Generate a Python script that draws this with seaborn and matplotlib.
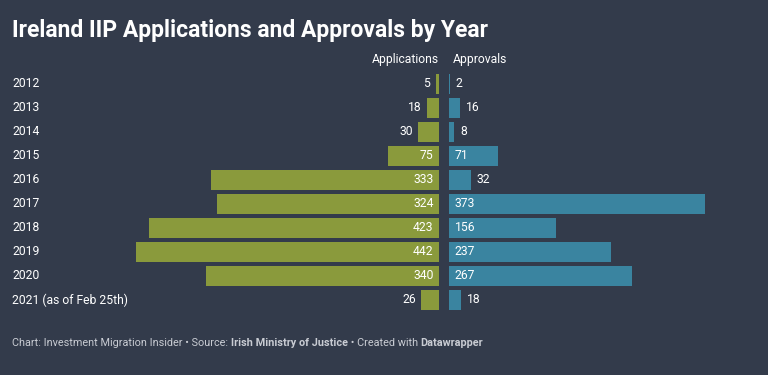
import pandas as pd
import seaborn as sns
import matplotlib.pyplot as plt

sns.set_style("white")
plt.rcParams['font.family'] = ['Roboto', 'DejaVu Sans']

# Data
years = ['2012', '2013', '2014', '2015', '2016', '2017', '2018', '2019', '2020',
         '2021 (as of Feb 25th)']
applications = [5, 18, 30, 75, 333, 324, 423, 442, 340, 26]
approvals = [2, 16, 8, 71, 32, 373, 156, 237, 267, 18]

df = pd.DataFrame({'Year': years, 'Applications': applications,
                   'Approvals': approvals})

bg = '#333b4b'
green = '#8a9a3c'
blue = '#3a84a0'
white = '#ffffff'

fig = plt.figure(figsize=(7.68, 3.75), dpi=100, facecolor=bg)
W, H = 768, 375

# axes placed in pixel terms
top_px, bot_px = 72, 312
ax_bottom = 1 - bot_px / H
ax_height = (bot_px - top_px) / H
scale = 303 / 442  # px per unit

axl = fig.add_axes([0, ax_bottom, 439 / W, ax_height])
axr = fig.add_axes([449 / W, ax_bottom, (W - 449) / W, ax_height])

sns.barplot(data=df, y='Year', x='Applications', color=green, width=0.8,
            saturation=1, linewidth=0, edgecolor='none', ax=axl)
sns.barplot(data=df, y='Year', x='Approvals', color=blue, width=0.8,
            saturation=1, linewidth=0, edgecolor='none', ax=axr)

axl.set_xlim(439 / scale, 0)
axr.set_xlim(0, (W - 449) / scale)

for ax in (axl, axr):
    ax.set_facecolor(bg)
    ax.set_ylim(len(years) - 0.5, -0.5)
    ax.set_xlabel('')
    ax.set_ylabel('')
    ax.set_xticks([])
    ax.set_yticks([])
    sns.despine(ax=ax, left=True, bottom=True)

fs = 8.7
pad = 8
# value labels
for i, v in enumerate(applications):
    pos = pad if v > 50 else v + pad
    axl.text(pos, i, str(v), ha='right', va='center', color=white, fontsize=fs)
for i, v in enumerate(approvals):
    pos = pad if v > 50 else v + pad
    axr.text(pos, i, str(v), ha='left', va='center', color=white, fontsize=fs)

# year labels on the left
for i, y in enumerate(years):
    axl.text(12 / 439, i, y, transform=axl.get_yaxis_transform(),
             ha='left', va='center', color=white, fontsize=fs)

# column headers
fig.text(439 / W, 1 - 60 / H, 'Applications', ha='right', va='center',
         color=white, fontsize=fs)
fig.text(453 / W, 1 - 60 / H, 'Approvals', ha='left', va='center',
         color=white, fontsize=fs)

fig.text(12 / W, 1 - 31 / H, 'Ireland IIP Applications and Approvals by Year',
         ha='left', va='center', color=white, fontsize=16.5, fontweight='bold')

# footer
foot_y = 1 - 343 / H
parts = [('Chart: Investment Migration Insider \u2022 Source: ', 'normal'),
         ('Irish Ministry of Justice', 'bold'),
         (' \u2022 Created with ', 'normal'),
         ('Datawrapper', 'bold')]
fig.canvas.draw()
renderer = fig.canvas.get_renderer()
x = 12 / W
for txt, wt in parts:
    t = fig.text(x, foot_y, txt, ha='left', va='center', color='#c9ccd3',
                 fontsize=7.8, fontweight=wt)
    bb = t.get_window_extent(renderer=renderer)
    x += bb.width / fig.bbox.width

fig.savefig('out.png', dpi=100, facecolor=bg)
